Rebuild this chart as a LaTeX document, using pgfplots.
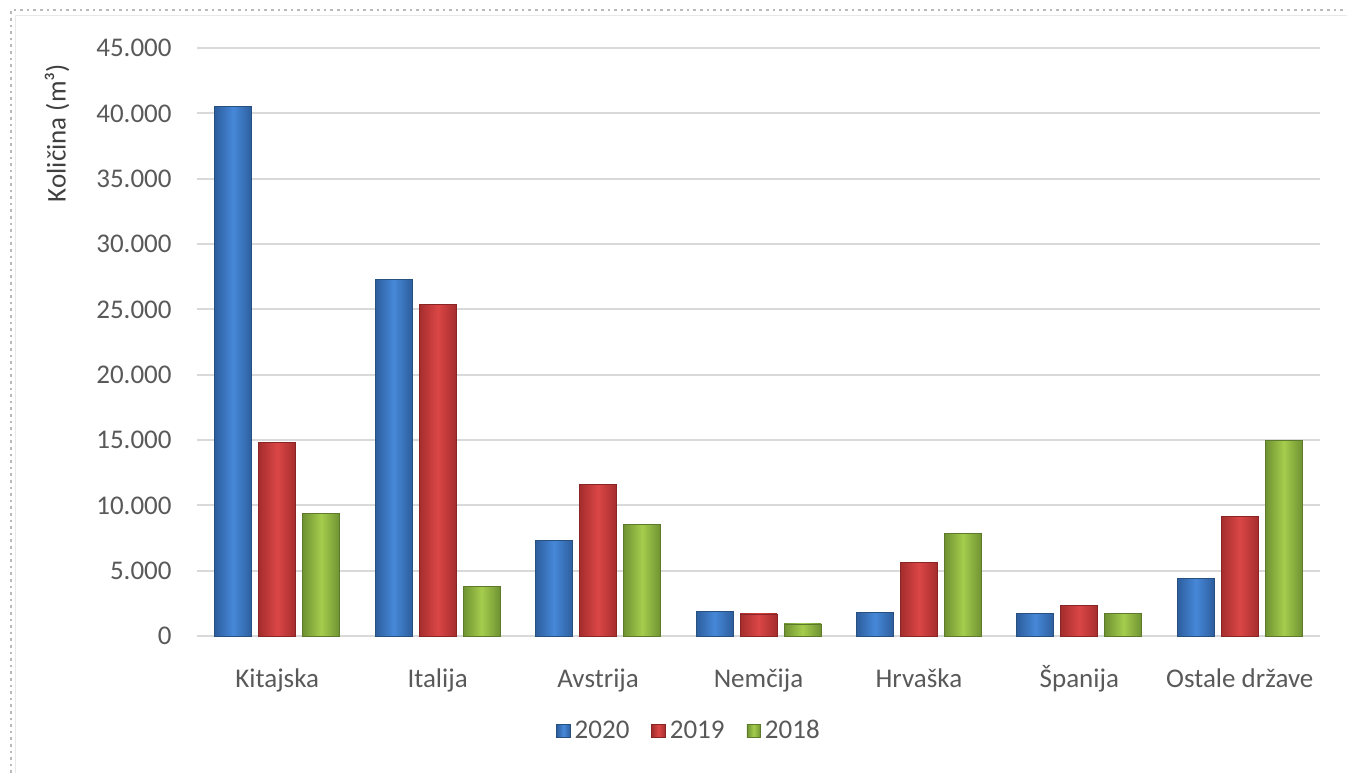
\documentclass[border=0pt]{standalone}
\usepackage{fontspec}
\setmainfont{Carlito}
\usepackage{pgfplots}
\pgfplotsset{compat=1.18}
\definecolor{txt}{HTML}{595959}
\definecolor{ttl}{HTML}{404040}
\definecolor{bA}{HTML}{2D5E9E}
\definecolor{bB}{HTML}{4688D8}
\definecolor{bO}{HTML}{26507F}
\definecolor{rA}{HTML}{A52D2D}
\definecolor{rB}{HTML}{DB4646}
\definecolor{rO}{HTML}{8A2525}
\definecolor{gA}{HTML}{6F9232}
\definecolor{gB}{HTML}{A5CD4D}
\definecolor{gO}{HTML}{5C7A2A}
\definecolor{grid}{HTML}{D9D9D9}
\pgfplotsset{
  sB/.style={draw=bO, line width=0.4pt, left color=bA, right color=bA, middle color=bB},
  sR/.style={draw=rO, line width=0.4pt, left color=rA, right color=rA, middle color=rB},
  sG/.style={draw=gO, line width=0.4pt, left color=gA, right color=gA, middle color=gB},
}
\begin{document}
\begin{tikzpicture}
\useasboundingbox (0,0) rectangle (673.5pt,-386.5pt);
\draw[gray!55, dotted, line width=1.3pt] (5.5pt,-386.5pt) -- (5.5pt,-5pt) -- (673.5pt,-5pt);
\draw[gray!18, line width=0.8pt] (7.8pt,-386.5pt) -- (7.8pt,-7.8pt) -- (673.5pt,-7.8pt);
\begin{axis}[
  at={(98.5pt,-318pt)}, anchor=south west,
  scale only axis, width=561.5pt, height=294pt,
  ymin=0, ymax=45000, ytick={0,5000,...,45000},
  xmin=-0.5, xmax=6.5, xtick={0,...,6},
  xticklabels={Kitajska,Italija,Avstrija,Nemčija,Hrvaška,Španija,Ostale države},
  ymajorgrids, grid style={draw=grid, line width=1pt},
  axis line style={draw=none}, tick style={draw=none},
  scaled y ticks=false,
  /pgf/number format/.cd, 1000 sep={.}, fixed, assume math mode=true,
  /pgfplots/.cd,
  tick label style={font=\fontsize{13.5}{16}\selectfont, text=txt},
  yticklabel style={inner sep=0pt, xshift=-12.5pt},
  xticklabel style={anchor=base, inner sep=0pt, yshift=-21.5pt},
  ybar, bar width=18.5pt,
  legend style={draw=none, fill=none, at={(rel axis cs:0.439,-0.1616)}, anchor=center,
    font=\fontsize{13.5}{16}\selectfont, text=txt, legend columns=3,
    /tikz/every even column/.append style={column sep=9pt}},
  legend image code/.code={\draw[#1] (0pt,-3.4pt) rectangle (6.8pt,3.4pt);},
]
% 2020
\addplot[sB, bar shift=-22pt, forget plot] coordinates {(0,40500)};
\addplot[sB, bar shift=-22pt, forget plot] coordinates {(1,27270)};
\addplot[sB, bar shift=-22pt, forget plot] coordinates {(2,7290)};
\addplot[sB, bar shift=-22pt, forget plot] coordinates {(3,1900)};
\addplot[sB, bar shift=-22pt, forget plot] coordinates {(4,1820)};
\addplot[sB, bar shift=-22pt, forget plot] coordinates {(5,1740)};
\addplot[sB, bar shift=-22pt, forget plot] coordinates {(6,4440)};
% 2019
\addplot[sR, bar shift=0pt, forget plot] coordinates {(0,14820)};
\addplot[sR, bar shift=0pt, forget plot] coordinates {(1,25380)};
\addplot[sR, bar shift=0pt, forget plot] coordinates {(2,11630)};
\addplot[sR, bar shift=0pt, forget plot] coordinates {(3,1690)};
\addplot[sR, bar shift=0pt, forget plot] coordinates {(4,5630)};
\addplot[sR, bar shift=0pt, forget plot] coordinates {(5,2330)};
\addplot[sR, bar shift=0pt, forget plot] coordinates {(6,9180)};
% 2018
\addplot[sG, bar shift=22pt, forget plot] coordinates {(0,9410)};
\addplot[sG, bar shift=22pt, forget plot] coordinates {(1,3780)};
\addplot[sG, bar shift=22pt, forget plot] coordinates {(2,8510)};
\addplot[sG, bar shift=22pt, forget plot] coordinates {(3,920)};
\addplot[sG, bar shift=22pt, forget plot] coordinates {(4,7870)};
\addplot[sG, bar shift=22pt, forget plot] coordinates {(5,1740)};
\addplot[sG, bar shift=22pt, forget plot] coordinates {(6,14950)};
\addlegendimage{sB}\addlegendentry{2020}
\addlegendimage{sR}\addlegendentry{2019}
\addlegendimage{sG}\addlegendentry{2018}
\end{axis}
\node[rotate=90, text=ttl, font=\fontsize{13.5}{16}\selectfont] at (28.5pt,-66.5pt) {Količina (m³)};
\end{tikzpicture}
\end{document}
